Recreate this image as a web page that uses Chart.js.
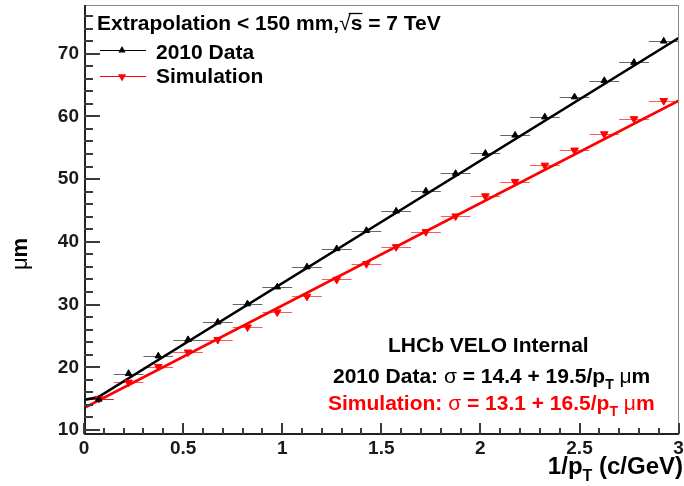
<!DOCTYPE html>
<html>
<head>
<meta charset="utf-8">
<title>Extrapolation resolution vs 1/pT</title>
<script src="https://cdn.jsdelivr.net/npm/chart.js@4.4.1/dist/chart.umd.min.js"></script>
<style>
  html, body { margin: 0; padding: 0; background: #fff; }
  #wrap { width: 684px; height: 486px; }
</style>
</head>
<body>
<div id="wrap"><canvas id="chart"></canvas></div>
<script>
// bin centres in 1/pT (c/GeV), each bin is 0.15 wide
const binCentres = [0.075, 0.225, 0.375, 0.525, 0.675, 0.825, 0.975, 1.125, 1.275, 1.425,
                    1.575, 1.725, 1.875, 2.025, 2.175, 2.325, 2.475, 2.625, 2.775, 2.925];
const binHalfWidth = 0.075;

// resolution in um
const dataSigma = [14.9, 19.0, 21.8, 24.4, 27.2, 30.1, 32.8, 36.0, 38.9, 41.8,
                   44.9, 48.1, 50.9, 54.1, 57.0, 59.9, 63.1, 65.7, 68.6, 72.0];
const simSigma  = [15.0, 17.6, 20.1, 22.4, 24.4, 26.4, 28.8, 31.3, 34.0, 36.5,
                   39.2, 41.6, 44.1, 47.3, 49.6, 52.2, 54.6, 57.2, 59.6, 62.5];

// fitted lines (end points)
const dataFitX = [0, 0.07, 3];
const dataFitY = [14.8, 15.2, 72.5];
const simFitX  = [0, 3];
const simFitY  = [13.5, 62.5];

const xTickValues = [0, 0.5, 1, 1.5, 2, 2.5, 3];
const xTickLabels = ["0", "0.5", "1", "1.5", "2", "2.5", "3"];
const yTickValues = [10, 20, 30, 40, 50, 60, 70];
const yTickLabels = ["10", "20", "30", "40", "50", "60", "70"];

const RED = "#ff0000";
const FONT = "'Liberation Sans', Arial, Helvetica, sans-serif";

// minor tick positions (every 0.1 in x, every 2 in y)
const xMinor = [];
for (let i = 0; i <= 30; i++) xMinor.push(i / 10);
const yMinor = [];
for (let v = 10; v <= 76; v += 2) yMinor.push(v);

function pts(xs, ys) {
    return xs.map((x, i) => ({ x: x, y: ys[i] }));
}

function labelFor(values, labels, v) {
    const i = values.findIndex(t => Math.abs(t - v) < 1e-6);
    return i >= 0 ? labels[i] : "";
}

// draws a row of text pieces, each with its own font / colour / vertical offset
function drawRich(ctx, parts, x, y, align) {
    let total = 0;
    parts.forEach(p => { ctx.font = p.font; p.w = ctx.measureText(p.t).width; total += p.w; });
    let cx = align === "right" ? x - total : x;
    ctx.textAlign = "left";
    ctx.textBaseline = "alphabetic";
    parts.forEach(p => {
        ctx.font = p.font;
        ctx.fillStyle = p.color || "#000";
        ctx.fillText(p.t, cx, y + (p.dy || 0));
        p.x = cx;
        cx += p.w;
    });
    return parts;
}

function triangle(ctx, cx, cy, r, down) {
    ctx.beginPath();
    const s = down ? -1 : 1;
    ctx.moveTo(cx, cy - s * r);
    ctx.lineTo(cx + r * 0.9, cy + s * r * 0.6);
    ctx.lineTo(cx - r * 0.9, cy + s * r * 0.6);
    ctx.closePath();
    ctx.fill();
}

const rootStyle = {
    id: "rootStyle",
    beforeDatasetsDraw(chart) {
        const { ctx, scales: { x, y } } = chart;
        ctx.save();
        ctx.lineWidth = 1.2;
        [[dataSigma, "rgba(0,0,0,0.6)"], [simSigma, "rgba(255,0,0,0.65)"]].forEach(([vals, col]) => {
            ctx.strokeStyle = col;
            ctx.beginPath();
            binCentres.forEach((c, i) => {
                const py = Math.round(y.getPixelForValue(vals[i])) + 0.5;
                ctx.moveTo(x.getPixelForValue(c - binHalfWidth), py);
                ctx.lineTo(x.getPixelForValue(c + binHalfWidth), py);
            });
            ctx.stroke();
        });
        ctx.restore();
    },
    afterDraw(chart) {
        const { ctx, chartArea: a, scales: { x, y } } = chart;
        const L = Math.round(a.left), R = Math.round(a.right);
        const T = Math.round(a.top), Bt = Math.round(a.bottom);
        ctx.save();

        // frame: grey top/right, black axes
        ctx.fillStyle = "#8a8a8a";
        ctx.fillRect(L, T, R - L, 1);
        ctx.fillRect(R - 1, T, 1, Bt - T);
        ctx.fillStyle = "#222";
        ctx.fillRect(L, T, 2, Bt - T + 1);
        ctx.fillRect(L, Bt - 1, R - L, 2);

        // ticks pointing into the frame
        ctx.fillStyle = "#3a3a3a";
        xMinor.forEach(v => {
            const px = Math.round(x.getPixelForValue(v));
            const len = labelFor(xTickValues, xTickLabels, v) !== "" ? 11 : 6;
            ctx.fillRect(px - 1, Bt - len, 2, len);
        });
        yMinor.forEach(v => {
            const py = Math.round(y.getPixelForValue(v));
            const len = labelFor(yTickValues, yTickLabels, v) !== "" ? 16 : 9;
            ctx.fillRect(L, py - 1, len, 2);
        });

        const B21 = "bold 21px " + FONT;
        const N21 = "21px " + FONT;

        // header + legend
        const head = drawRich(ctx, [
            { t: "Extrapolation < 150 mm,", font: B21 },
            { t: "\u221A", font: N21 },
            { t: "s", font: B21 },
            { t: " = 7 TeV", font: B21 }
        ], 97, 30, "left");
        ctx.strokeStyle = "#000";
        ctx.lineWidth = 1.3;
        ctx.beginPath();
        ctx.moveTo(head[1].x + head[1].w - 2, 13.5);
        ctx.lineTo(head[2].x + head[2].w, 13.5);
        ctx.stroke();

        ctx.lineWidth = 1;
        ctx.strokeStyle = "#000";
        ctx.beginPath(); ctx.moveTo(100, 50.5); ctx.lineTo(146, 50.5); ctx.stroke();
        ctx.fillStyle = "#000";
        triangle(ctx, 122, 50, 4, false);
        ctx.strokeStyle = RED;
        ctx.beginPath(); ctx.moveTo(100, 76.5); ctx.lineTo(146, 76.5); ctx.stroke();
        ctx.fillStyle = RED;
        triangle(ctx, 122, 77, 4.5, true);
        drawRich(ctx, [{ t: "2010 Data", font: B21 }], 156, 59, "left");
        drawRich(ctx, [{ t: "Simulation", font: B21 }], 156, 83, "left");

        // fit results
        drawRich(ctx, [{ t: "LHCb VELO Internal", font: B21 }], 388, 352, "left");
        drawRich(ctx, [
            { t: "2010 Data: ", font: B21 },
            { t: "\u03C3", font: N21 },
            { t: " = 14.4 + 19.5/p", font: B21 },
            { t: "T", font: "bold 14px " + FONT, dy: 6 },
            { t: " \u03BC", font: N21 },
            { t: "m", font: B21 }
        ], 333, 383, "left");
        drawRich(ctx, [
            { t: "Simulation: ", font: B21, color: RED },
            { t: "\u03C3", font: N21, color: RED },
            { t: " = 13.1 + 16.5/p", font: B21, color: RED },
            { t: "T", font: "bold 14px " + FONT, dy: 6, color: RED },
            { t: " \u03BC", font: N21, color: RED },
            { t: "m", font: B21, color: RED }
        ], 328, 410, "left");

        // axis titles
        drawRich(ctx, [
            { t: "1/p", font: "bold 24px " + FONT },
            { t: "T", font: "bold 16px " + FONT, dy: 7 },
            { t: " (c/GeV)", font: "bold 24px " + FONT }
        ], 683, 474, "right");

        ctx.translate(27, 254);
        ctx.rotate(-Math.PI / 2);
        const yt = [{ t: "\u03BC", font: "22px " + FONT }, { t: "m", font: "bold 22px " + FONT }];
        let w = 0;
        yt.forEach(p => { ctx.font = p.font; w += ctx.measureText(p.t).width; });
        drawRich(ctx, yt, -w / 2, 0, "left");
        ctx.restore();
    }
};

new Chart(document.getElementById("chart"), {
    type: "scatter",
    data: {
        datasets: [
            {
                label: "2010 Data fit",
                data: pts(dataFitX, dataFitY),
                showLine: true,
                borderColor: "#000",
                borderWidth: 2.6,
                pointRadius: 0,
                order: 2
            },
            {
                label: "Simulation fit",
                data: pts(simFitX, simFitY),
                showLine: true,
                borderColor: RED,
                borderWidth: 2.6,
                pointRadius: 0,
                order: 2
            },
            {
                label: "2010 Data",
                data: pts(binCentres, dataSigma),
                pointStyle: "triangle",
                pointRadius: 3.8,
                backgroundColor: "#000",
                borderColor: "#000",
                borderWidth: 1,
                order: 1
            },
            {
                label: "Simulation",
                data: pts(binCentres, simSigma),
                pointStyle: "triangle",
                rotation: 180,
                pointRadius: 4.4,
                backgroundColor: RED,
                borderColor: RED,
                borderWidth: 1,
                order: 1
            }
        ]
    },
    options: {
        responsive: true,
        maintainAspectRatio: false,
        devicePixelRatio: 1,
        animation: false,
        layout: { padding: { top: 5, right: 4, left: 0, bottom: 0 } },
        plugins: { legend: { display: false }, tooltip: { enabled: false } },
        scales: {
            x: {
                type: "linear",
                min: 0,
                max: 3,
                grid: { display: false, drawTicks: false },
                border: { display: false },
                afterBuildTicks: s => {
                    s.ticks = xTickValues.map(v => ({ value: v }));
                },
                afterFit: s => {
                    s.height = 52;
                    s.paddingLeft = 0;
                    s.paddingRight = 0;
                },
                ticks: {
                    autoSkip: false,
                    maxRotation: 0,
                    padding: 3,
                    color: "#1a1a1a",
                    font: { family: FONT, size: 19, weight: "bold" },
                    callback: v => labelFor(xTickValues, xTickLabels, v)
                }
            },
            y: {
                min: 9.36,
                max: 77.7,
                grid: { display: false, drawTicks: false },
                border: { display: false },
                afterBuildTicks: s => {
                    s.ticks = yTickValues.map(v => ({ value: v }));
                },
                afterFit: s => {
                    s.width = 84;
                    s.paddingTop = 0;
                    s.paddingBottom = 0;
                },
                ticks: {
                    autoSkip: false,
                    padding: 5,
                    color: "#1a1a1a",
                    font: { family: FONT, size: 19, weight: "bold" },
                    callback: v => labelFor(yTickValues, yTickLabels, v)
                }
            }
        }
    },
    plugins: [rootStyle]
});
</script>
</body>
</html>
